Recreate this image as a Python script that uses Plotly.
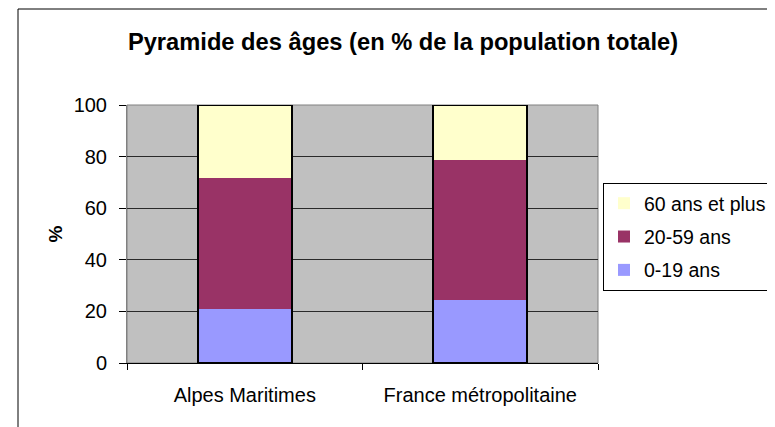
import plotly.graph_objects as go

categories = ["Alpes Maritimes", "France métropolitaine"]
ages_0_19 = [21.0, 24.6]
ages_20_59 = [50.9, 54.2]
ages_60_plus = [28.1, 21.2]
series_names = ["0-19 ans", "20-59 ans", "60 ans et plus"]
series_colors = ["#9999FF", "#993366", "#FFFFCC"]
legend_ranks = [3, 2, 1]
y_ticks = [0, 20, 40, 60, 80, 100]

# page has an 8px body margin, so the figure is laid out 8px up/left
OFF = 8
W, H = 775 - OFF, 427 - OFF
L, R, T, B = 127 - OFF, 177, 105 - OFF, 64
PW, PH = W - L - R, H - T - B

fig = go.Figure()
for name, vals, col, rank in zip(series_names, [ages_0_19, ages_20_59, ages_60_plus],
                                 series_colors, legend_ranks):
    fig.add_trace(go.Bar(
        x=categories, y=vals, name=name, width=0.4, legendgroup=name, legendrank=rank,
        marker=dict(color=col, line=dict(color="black", width=0)),
    ))

totals = [a + b + c for a, b, c in zip(ages_0_19, ages_20_59, ages_60_plus)]
fig.add_trace(go.Bar(
    x=categories, y=totals, base=0, width=0.4, showlegend=False, hoverinfo="skip",
    marker=dict(color="rgba(0,0,0,0)", line=dict(color="black", width=2)),
))

font_family = "Arial, Liberation Sans, sans-serif"

fig.update_layout(
    width=W, height=H,
    barmode="stack",
    paper_bgcolor="white",
    plot_bgcolor="#C0C0C0",
    margin=dict(l=L, r=R, t=T, b=B, autoexpand=False),
    font=dict(family=font_family, size=20, color="black"),
    title=dict(
        text="<b>Pyramide des âges (en % de la population totale)</b>",
        font=dict(size=23.7, family=font_family, color="black"),
        xref="container", x=(403 - OFF) / W, xanchor="center",
        yref="container", y=1 - (42 - OFF) / H, yanchor="middle",
    ),
    xaxis=dict(
        type="category", tickson="boundaries", ticks="outside", ticklen=6,
        tickcolor="black", showline=True, linecolor="black", linewidth=1,
        showgrid=False, tickfont=dict(size=20), ticklabelstandoff=14,
    ),
    yaxis=dict(
        range=[0, 100], tickvals=y_ticks, ticks="outside", ticklen=7,
        tickcolor="black", showline=True, linecolor="#808080", linewidth=1,
        showgrid=True, gridcolor="#2a2a2a", gridwidth=1, zeroline=False,
        tickfont=dict(size=20), ticklabelstandoff=8,
        title=dict(text="<b>%</b>", font=dict(size=19), standoff=5),
    ),
    legend=dict(
        x=(603 - 127) / PW, xanchor="left",
        y=1 - (183 - 105) / PH, yanchor="top",
        bordercolor="black", borderwidth=1, bgcolor="white",
        traceorder="grouped", tracegroupgap=5, font=dict(size=19.5),
    ),
    shapes=[
        dict(type="rect", xref="paper", yref="paper",
             x0=(18 - 127) / PW, x1=(W + 20 - L) / PW,
             y0=-(B + 20) / PH, y1=1 + (105 - 9) / PH,
             line=dict(color="black", width=1), fillcolor="rgba(0,0,0,0)", layer="below"),
        dict(type="rect", xref="paper", yref="paper", x0=0, x1=1, y0=0, y1=1,
             line=dict(color="#808080", width=1), fillcolor="rgba(0,0,0,0)", layer="below"),
    ],
)

fig.write_html("out.html")
